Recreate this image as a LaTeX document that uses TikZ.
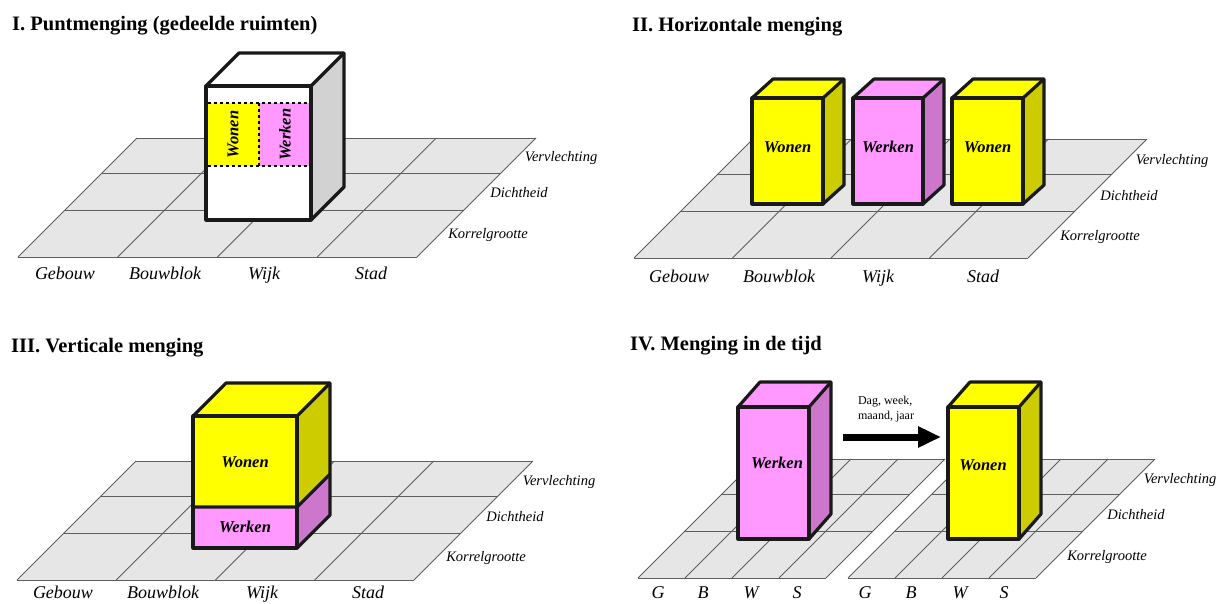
\documentclass[tikz,border=0pt]{standalone}
\usepackage{fontspec}
\setmainfont{Liberation Serif}
\usetikzlibrary{arrows.meta}

\definecolor{floorgray}{HTML}{E6E6E6}
\definecolor{gridline}{HTML}{5E5E5E}
\definecolor{woon}{HTML}{FFFF00}
\definecolor{woonside}{HTML}{CCCC00}
\definecolor{werk}{HTML}{FF99FF}
\definecolor{werkside}{HTML}{CC77CC}
\definecolor{blankside}{HTML}{D2D2D2}

\tikzset{
  gline/.style={draw=gridline, line width=0.8pt},
  edge/.style={draw=black!90, line width=3.2pt, line join=round},
  paneltitle/.style={anchor=base west, inner sep=0pt, font=\fontsize{20.5}{22}\selectfont\bfseries},
  axislabel/.style={anchor=base, inner sep=0pt, font=\fontsize{18}{20}\selectfont\itshape},
  sidelabel/.style={inner sep=0pt, font=\fontsize{14.5}{16}\selectfont\itshape},
  uselabel/.style={inner sep=0pt, font=\fontsize{16.5}{18}\selectfont\bfseries\itshape},
  bandline/.style={draw=black, line width=1.3pt, dashed},
}

% floor grid of 4 x 3 cells: #1 front-left x, #2 front y, #3 column width
\newcommand\floorgrid[3]{%
  \fill[floorgray] (#1,#2) -- ++({4*#3},0) -- ++(119,-119) -- ++({-4*#3},0) -- cycle;
  \foreach \d in {0,47,84,119}{\draw[gline] ({#1+\d},{#2-\d}) -- ++({4*#3},0);}
  \foreach \i in {0,...,4}{\draw[gline] ({#1+\i*#3},#2) -- ++(119,-119);}
}

% block: #1,#2 front top-left; #3,#4 front bottom-right; #5 dx; #6 dy; #7 front/top colour; #8 side colour
\newcommand\blockfill[8]{%
  \fill[#7] (#1,#2) rectangle (#3,#4);
  \fill[#7] (#1,#2) -- ++(#5,-#6) -- ({#3+#5},{#2-#6}) -- (#3,#2) -- cycle;
  \fill[#8] (#3,#2) -- ++(#5,-#6) -- ({#3+#5},{#4-#6}) -- (#3,#4) -- cycle;
}
\newcommand\blockedge[6]{%
  \draw[edge] (#1,#2) rectangle (#3,#4);
  \draw[edge] (#1,#2) -- ++(#5,-#6) -- ({#3+#5},{#2-#6}) -- ({#3+#5},{#4-#6}) -- (#3,#4);
  \draw[edge] (#3,#2) -- ++(#5,-#6);
}

\begin{document}
\begin{tikzpicture}[x=1pt, y=-1pt]
\fill[white] (0,0) rectangle (1222,603);
\useasboundingbox (0,0) rectangle (1222,603);

% ---------- I. Puntmenging ----------
\node[paneltitle] (t1) at (12,30) {I. Puntmenging (gedeelde ruimten)};
\floorgrid{18}{257}{99.75}
\blockfill{206}{86}{311}{220}{33}{33}{white}{blankside}
\fill[woon] (207.6,103) rectangle (259,166);
\fill[werk] (259,103) rectangle (309.4,166);
\draw[bandline] (207.6,103) -- (309.4,103);
\draw[bandline] (207.6,166) -- (309.4,166);
\draw[bandline] (259,103) -- (259,166);
\blockedge{206}{86}{311}{220}{33}{33}
\node[uselabel, rotate=90] (p1won) at (233,134.5) {Wonen};
\node[uselabel, rotate=90] (p1wer) at (285,134.5) {Werken};
\node[sidelabel] (p1v) at (561,158) {Vervlechting};
\node[sidelabel] (p1d) at (519,193) {Dichtheid};
\node[sidelabel] (p1k) at (488,235) {Korrelgrootte};
\node[axislabel] (p1g) at (65,279) {Gebouw};
\node[axislabel] (p1b) at (165,279) {Bouwblok};
\node[axislabel] (p1w) at (264,279) {Wijk};
\node[axislabel] (p1s) at (371,279) {Stad};

% ---------- II. Horizontale menging ----------
\node[paneltitle] (t2) at (632,31) {II. Horizontale menging};
\floorgrid{634}{258}{98.5}
\blockfill{752}{98}{823}{204}{21}{19}{woon}{woonside}
\blockedge{752}{98}{823}{204}{21}{19}
\blockfill{853}{98}{923}{204}{21}{19}{werk}{werkside}
\blockedge{853}{98}{923}{204}{21}{19}
\blockfill{952}{98}{1023}{204}{21}{19}{woon}{woonside}
\blockedge{952}{98}{1023}{204}{21}{19}
\node[uselabel] (p2a) at (787.5,147) {Wonen};
\node[uselabel] (p2b) at (888,147) {Werken};
\node[uselabel] (p2c) at (987.5,147) {Wonen};
\node[sidelabel] (p2v) at (1172,161) {Vervlechting};
\node[sidelabel] (p2d) at (1129,196) {Dichtheid};
\node[sidelabel] (p2k) at (1100,237) {Korrelgrootte};
\node[axislabel] (p2g) at (679,282) {Gebouw};
\node[axislabel] (p2b2) at (779,282) {Bouwblok};
\node[axislabel] (p2w) at (878,282) {Wijk};
\node[axislabel] (p2s) at (983,282) {Stad};

% ---------- III. Verticale menging ----------
\node[paneltitle] (t3) at (11,352) {III. Verticale menging};
\floorgrid{17}{580}{99.25}
\blockfill{193}{416}{297}{548}{33}{33}{woon}{woonside}
\fill[werk] (193,507) rectangle (297,548);
\fill[werkside] (297,507) -- ++(33,-33) -- (330,515) -- (297,548) -- cycle;
\blockedge{193}{416}{297}{548}{33}{33}
\draw[edge] (193,507) -- (297,507) -- ++(33,-33);
\node[uselabel] (p3won) at (245,462) {Wonen};
\node[uselabel] (p3wer) at (245,527) {Werken};
\node[sidelabel] (p3v) at (559,482) {Vervlechting};
\node[sidelabel] (p3d) at (515,517) {Dichtheid};
\node[sidelabel] (p3k) at (486,558) {Korrelgrootte};
\node[axislabel] (p3g) at (63,598) {Gebouw};
\node[axislabel] (p3b) at (163,598) {Bouwblok};
\node[axislabel] (p3w) at (262,598) {Wijk};
\node[axislabel] (p3s) at (368,598) {Stad};

% ---------- IV. Menging in de tijd ----------
\node[paneltitle] (t4) at (630,350) {IV. Menging in de tijd};
\floorgrid{638}{578}{47}
\floorgrid{848}{578}{47}
\blockfill{738}{407}{809}{539}{22}{25}{werk}{werkside}
\blockedge{738}{407}{809}{539}{22}{25}
\blockfill{948}{407}{1019}{539}{22}{25}{woon}{woonside}
\blockedge{948}{407}{1019}{539}{22}{25}
\node[uselabel] (p4wer) at (777,463) {Werken};
\node[uselabel] (p4won) at (983,465) {Wonen};
\coordinate (arrS) at (843,437);
\coordinate (arrE) at (941,437);
\draw[line width=7pt, -{Triangle[length=23pt, width=20pt]}] (arrS) -- (arrE);
\node[font=\fontsize{12}{15}\selectfont, align=left, inner sep=0pt] (p4tijd) at (886,409) {Dag, week,\\maand, jaar};
\node[sidelabel] (p4v) at (1180,480) {Vervlechting};
\node[sidelabel] (p4d) at (1136,515) {Dichtheid};
\node[sidelabel] (p4k) at (1107,557) {Korrelgrootte};
\node[axislabel] (p4g1) at (658,598) {G};
\node[axislabel] (p4b1) at (703,598) {B};
\node[axislabel] (p4w1) at (751,598) {W};
\node[axislabel] (p4s1) at (797,598) {S};
\node[axislabel] (p4g2) at (865,598) {G};
\node[axislabel] (p4b2) at (911,598) {B};
\node[axislabel] (p4w2) at (960,598) {W};
\node[axislabel] (p4s2) at (1004,598) {S};
\end{tikzpicture}
\end{document}
